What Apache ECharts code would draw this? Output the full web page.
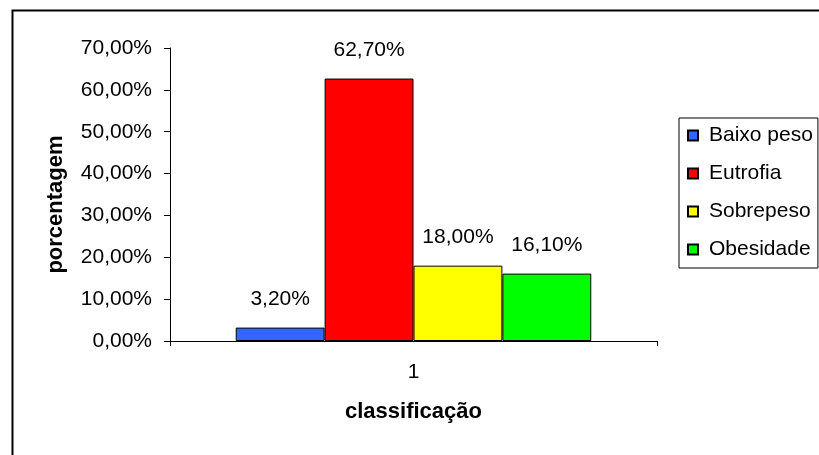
<!DOCTYPE html>
<html>
<head>
<meta charset="utf-8">
<script src="https://cdn.jsdelivr.net/npm/echarts@6/dist/echarts.min.js"></script>
<style>
html,body{margin:0;padding:0;background:#fff;}
#chart{width:819px;height:455px;}
</style>
</head>
<body>
<div id="chart"></div>
<script>
var categories = ['1'];
var seriesNames = ['Baixo peso', 'Eutrofia', 'Sobrepeso', 'Obesidade'];
var seriesValues = [[0.032], [0.627], [0.18], [0.161]];
var seriesColors = ['#3366FF', '#FF0000', '#FFFF00', '#00FF00'];
var yTicks = [0, 0.1, 0.2, 0.3, 0.4, 0.5, 0.6, 0.7];

function pct(v) { return (v * 100).toFixed(2).replace('.', ',') + '%'; }

var FONT = 'Arial, "Liberation Sans", sans-serif';
var chart = echarts.init(document.getElementById('chart'), null, {renderer: 'canvas'});

var series = seriesNames.map(function (n, i) {
  return {
    name: n,
    type: 'bar',
    data: seriesValues[i],
    barGap: '0%',
    barCategoryGap: '27%',
    itemStyle: {color: seriesColors[i], borderColor: '#000', borderWidth: 1},
    label: {
      show: true, position: 'top', distance: 18,
      formatter: function (p) { return pct(p.value); },
      color: '#000', fontSize: 21, fontFamily: FONT
    }
  };
});

chart.setOption({
  animation: false,
  backgroundColor: '#fff',
  graphic: [{
    type: 'rect', left: 10, top: 8, z: 100,
    shape: {x: 0, y: 0, width: 840, height: 470},
    style: {fill: 'none', stroke: '#000', lineWidth: 2}
  }],
  grid: {left: 170, right: 162, top: 48, bottom: 114, containLabel: false},
  legend: {
    orient: 'vertical', left: 679, top: 118,
    data: seriesNames,
    icon: 'rect', itemWidth: 10, itemHeight: 10, itemGap: 17,
    borderColor: '#000', borderWidth: 1,
    padding: [7, 5, 8, 8],
    textStyle: {fontSize: 21, fontFamily: FONT, color: '#000', padding: [0, 0, 0, 6]}
  },
  xAxis: {
    type: 'category', data: categories,
    axisLine: {lineStyle: {color: '#000', width: 1}},
    axisTick: {show: true, length: 5, lineStyle: {color: '#000'}},
    axisLabel: {fontSize: 21, fontFamily: FONT, color: '#000', margin: 21},
    name: 'classificação', nameLocation: 'middle', nameGap: 60,
    nameTextStyle: {fontSize: 22, fontWeight: 'bold', fontFamily: FONT, color: '#000'}
  },
  yAxis: {
    type: 'value', min: yTicks[0], max: yTicks[yTicks.length - 1], interval: 0.1,
    axisLine: {show: true, lineStyle: {color: '#000', width: 1}},
    axisTick: {show: true, length: 6, lineStyle: {color: '#000'}},
    splitLine: {show: false},
    axisLabel: {formatter: pct, fontSize: 21, fontFamily: FONT, color: '#000', margin: 18},
    name: 'porcentagem', nameLocation: 'middle', nameGap: 103, nameRotate: 90,
    nameTextStyle: {fontSize: 22, fontWeight: 'bold', fontFamily: FONT, color: '#000', padding: [0, 20, 0, 0]}
  },
  series: series
});
</script>
</body>
</html>
